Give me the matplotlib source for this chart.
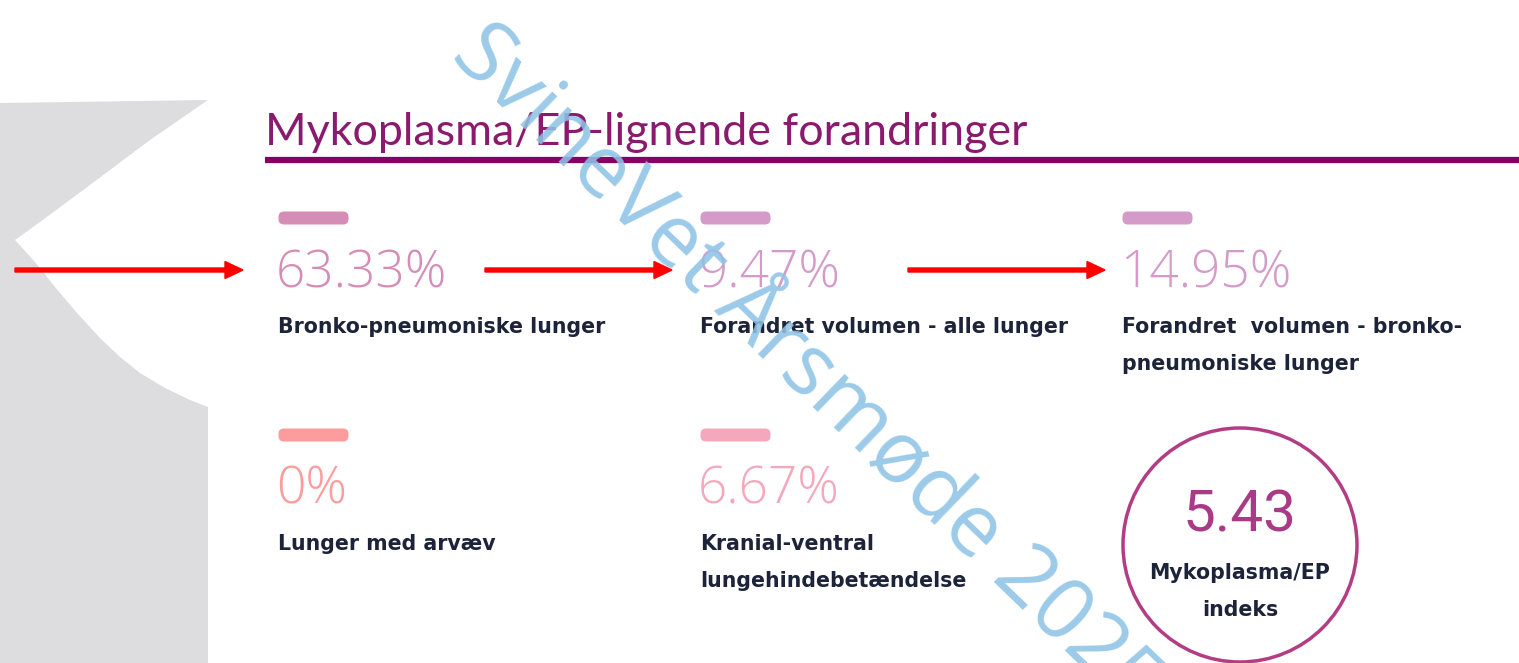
import matplotlib
matplotlib.use("Agg")
import matplotlib.pyplot as plt
from matplotlib.patches import FancyBboxPatch, Circle, FancyArrow, Polygon

# ---- data ----
title = "Mykoplasma/EP-lignende forandringer"
values = [63.33, 9.47, 14.95, 0, 6.67]
value_labels = ["63.33%", "9.47%", "14.95%", "0%", "6.67%"]
descriptions = [
    "Bronko-pneumoniske lunger",
    "Forandret volumen - alle lunger",
    "Forandret  volumen - bronko-\npneumoniske lunger",
    "Lunger med arvæv",
    "Kranial-ventral\nlungehindebetændelse",
]
colors = ["#d68db5", "#d49bc9", "#d49bc9", "#fd9c9c", "#f4a8bb"]
index_value = 5.43
index_label = "Mykoplasma/EP\nindeks"
watermark = "SvineVet Årsmøde 2025"

W, H = 1519, 663
fig = plt.figure(figsize=(W / 100, H / 100), dpi=100)
ax = fig.add_axes([0, 0, 1, 1])
ax.set_xlim(0, W)
ax.set_ylim(H, 0)
ax.axis("off")

TEXT = "#1d2439"
LINE_GAP = 37

# gray background shape on the left
shape = [(0, 103), (208, 100), (150, 140), (90, 185), (40, 222), (15, 240),
         (35, 262), (55, 287), (77, 313), (100, 338), (120, 357), (140, 373),
         (165, 388), (190, 400), (208, 407), (208, 663), (0, 663)]
ax.add_patch(Polygon(shape, closed=True, facecolor="#dddde0", edgecolor="none", zorder=0))

# title and underline
ax.text(265, 145, title, fontsize=32.3, family="Lato", color="#8a1a6e",
        ha="left", va="baseline", zorder=2)
ax.plot([265, W], [160, 160], color="#870064", lw=4.5, solid_capstyle="butt", zorder=2)


def multiline(x, y, s, **kw):
    for k, line in enumerate(s.split("\n")):
        ax.text(x, y + k * LINE_GAP, line, **kw)


# metric blocks
col_x = [278, 700, 1122, 278, 700]
row_y = [218, 218, 218, 435, 435]
for i, (lab, desc, c) in enumerate(zip(value_labels, descriptions, colors)):
    x, y = col_x[i], row_y[i]
    ax.add_patch(FancyBboxPatch((x + 6, y - 1), 59, 2, boxstyle="round,pad=5.5",
                                facecolor=c, edgecolor="none", zorder=2))
    ax.text(x - 2, y + 69, lab, fontsize=37, family="Open Sans", fontweight="light",
            color=c, ha="left", va="baseline", zorder=2)
    multiline(x, y + 115, desc, fontsize=14.8, family="DejaVu Sans", fontweight="bold",
              color=TEXT, ha="left", va="baseline", zorder=2)

# index circle
ax.add_patch(Circle((1240, 545), 117, facecolor="none", edgecolor="#b23d84", lw=2.5, zorder=2))
ax.text(1240, 532, f"{index_value:.2f}", fontsize=42, family="Roboto", color="#a93a86",
        ha="center", va="baseline", zorder=2)
multiline(1240, 579, index_label, fontsize=14.8, family="DejaVu Sans", fontweight="bold",
          color=TEXT, ha="center", va="baseline", zorder=2)

# red arrows
for x0, x1 in [(15, 243), (485, 672), (908, 1105)]:
    ax.add_patch(FancyArrow(x0, 270, x1 - x0, 0, width=4, head_width=17, head_length=18,
                            length_includes_head=True, color="#ff0000", zorder=4))

# watermark
ax.text(496, 9, watermark, fontsize=62, family="Open Sans", color="#8ec3e6", alpha=0.88,
        rotation=-44, rotation_mode="anchor", ha="left", va="top", zorder=3)

fig.savefig("out.png", dpi=100)
